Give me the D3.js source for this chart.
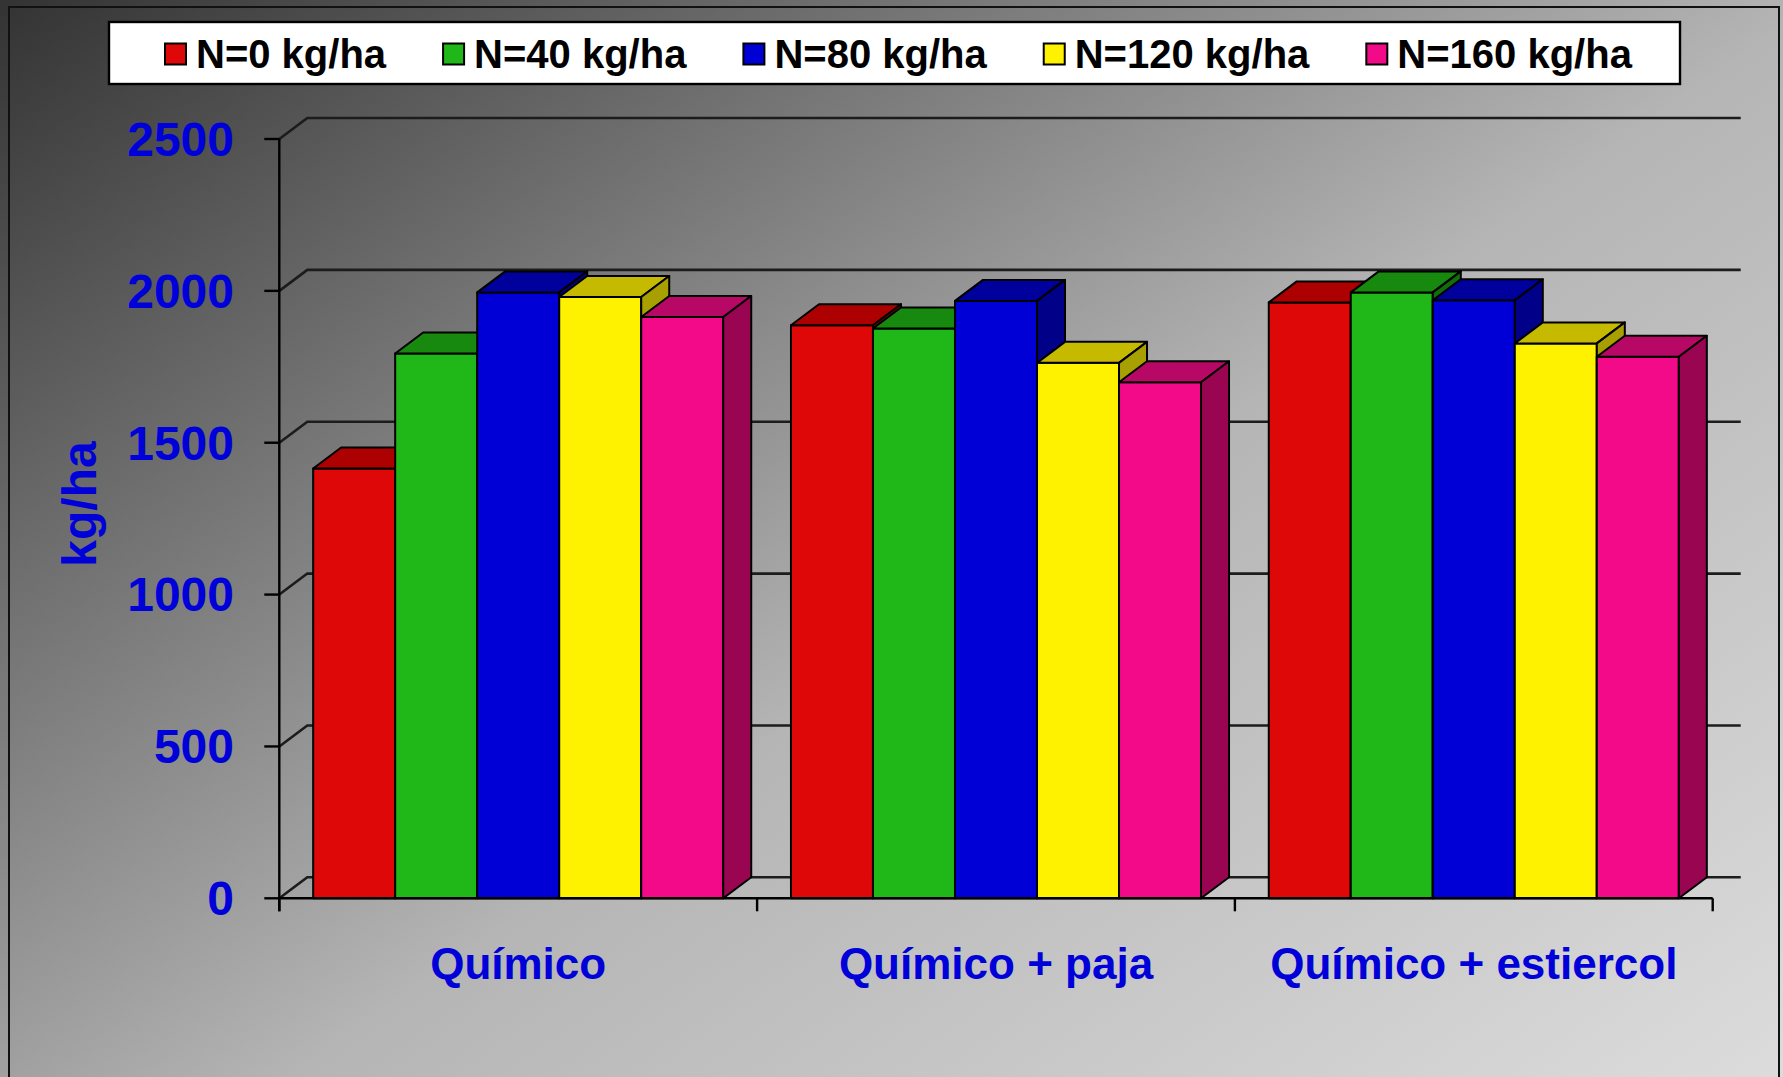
<!DOCTYPE html>
<html>
<head>
<meta charset="utf-8">
<title>kg/ha por tratamiento</title>
<script src="https://d3js.org/d3.v7.min.js"></script>
<style>
  body { margin: 0; background: #888; }
  text { font-family: "Liberation Sans", Arial, sans-serif; font-weight: bold; }
</style>
</head>
<body>
<svg width="1783" height="1077" id="chart"></svg>
<script>
// data
var categories = ["Químico", "Químico + paja", "Químico + estiercol"]
var seriesNames = ["N=0 kg/ha", "N=40 kg/ha", "N=80 kg/ha", "N=120 kg/ha", "N=160 kg/ha"]
var n0   = [1415, 1887, 1962]
var n40  = [1794, 1876, 1995]
var n80  = [1995, 1967, 1969]
var n120 = [1980, 1763, 1827]
var n160 = [1914, 1699, 1783]
var yTicks = [0, 500, 1000, 1500, 2000, 2500]

var seriesValues = [n0, n40, n80, n120, n160]
// front / top / side shades for each series
var colors = [
  {front: "#de0808", top: "#ad0000", side: "#8a0000"},
  {front: "#20b818", top: "#17890f", side: "#126e0c"},
  {front: "#0000d6", top: "#00009c", side: "#000088"},
  {front: "#fff200", top: "#c6ba00", side: "#a8a000"},
  {front: "#f20a88", top: "#b80866", side: "#9a0552"}
]

var svg = d3.select("#chart"),
    W = +svg.attr("width"), H = +svg.attr("height")

var dx = 28, dy = -21   // depth of the 3d walls and bars

var x0 = d3.scaleBand().domain(categories).range([279.3, 1712.7]).padding(0)
var x1 = d3.scaleBand().domain(d3.range(seriesNames.length))
    .range([0, x0.bandwidth()]).paddingInner(0).paddingOuter(0.413)
var y = d3.scaleLinear().domain([0, 2500]).range([898.3, 139])

// background
var defs = svg.append("defs")
var grad = defs.append("linearGradient").attr("id", "bg")
    .attr("gradientUnits", "userSpaceOnUse")
    .attr("x1", 0).attr("y1", 0).attr("x2", 1097).attr("y2", 1562)
grad.append("stop").attr("offset", "0%").attr("stop-color", "#333333")
grad.append("stop").attr("offset", "55%").attr("stop-color", "#b5b5b5")
grad.append("stop").attr("offset", "100%").attr("stop-color", "#dcdcdc")
svg.append("rect").attr("width", W).attr("height", H).attr("fill", "url(#bg)")
svg.append("rect").attr("x", 9).attr("y", 7).attr("width", 1770).attr("height", H + 10)
    .attr("fill", "none").attr("stroke", "#111").attr("stroke-width", 2)

var x0min = x0.range()[0], x0max = x0.range()[1]

// back wall gridlines + side wall diagonals
var grid = svg.append("g").attr("stroke", "#1c1c1c").attr("stroke-width", 2.6).attr("fill", "none")
yTicks.forEach(function(t) {
  grid.append("path")
    .attr("d", "M" + x0min + "," + y(t) + "L" + (x0min + dx) + "," + (y(t) + dy) +
               "L" + (x0max + dx) + "," + (y(t) + dy))
})

// bars
var groups = svg.selectAll("g.cat").data(categories).enter().append("g")
    .attr("class", "cat")
    .attr("transform", function(c) { return "translate(" + x0(c) + ",0)" })

groups.each(function(c, ci) {
  var g = d3.select(this)
  seriesValues.forEach(function(vals, si) {
    var v = vals[ci], bx = x1(si), bw = x1.bandwidth(), top = y(v), base = y(0)
    var col = colors[si]
    var b = g.append("g").attr("stroke", "#000").attr("stroke-width", 2).attr("stroke-linejoin", "round")
    b.append("rect").attr("x", bx).attr("y", top).attr("width", bw).attr("height", base - top)
      .attr("fill", col.front)
    b.append("path").attr("fill", col.top)
      .attr("d", "M" + bx + "," + top + "L" + (bx + dx) + "," + (top + dy) +
                 "L" + (bx + bw + dx) + "," + (top + dy) + "L" + (bx + bw) + "," + top + "Z")
    b.append("path").attr("fill", col.side)
      .attr("d", "M" + (bx + bw) + "," + top + "L" + (bx + bw + dx) + "," + (top + dy) +
                 "L" + (bx + bw + dx) + "," + (base + dy) + "L" + (bx + bw) + "," + base + "Z")
  })
})

// front axes
var axes = svg.append("g").attr("stroke", "#000").attr("stroke-width", 2.4).attr("fill", "none")
axes.append("path").attr("d", "M" + x0min + "," + y(2500) + "V" + (y(0) + 13))
axes.append("path").attr("d", "M" + x0min + "," + y(0) + "H" + x0max)
yTicks.forEach(function(t) {
  axes.append("path").attr("d", "M" + (x0min - 15) + "," + y(t) + "H" + x0min)
})
categories.concat([null]).forEach(function(c) {
  var xx = c === null ? x0max : x0(c)
  axes.append("path").attr("d", "M" + xx + "," + y(0) + "V" + (y(0) + 13))
})

svg.append("g").selectAll("text").data(yTicks).enter().append("text")
    .attr("x", 234).attr("y", function(d) { return y(d) })
    .attr("dy", "0.35em").attr("text-anchor", "end")
    .attr("font-size", 48).attr("fill", "#0000d8")
    .text(function(d) { return d })

svg.append("g").selectAll("text").data(categories).enter().append("text")
    .attr("x", function(c) { return x0(c) + x0.bandwidth() / 2 }).attr("y", 979)
    .attr("text-anchor", "middle").attr("font-size", 44).attr("fill", "#0000d8")
    .text(function(c) { return c })

svg.append("text").attr("transform", "translate(96,504) rotate(-90)")
    .attr("text-anchor", "middle").attr("font-size", 48).attr("fill", "#0000d8")
    .text("kg/ha")

// legend
var lg = svg.append("g")
lg.append("rect").attr("x", 109).attr("y", 22).attr("width", 1571).attr("height", 62)
    .attr("fill", "#fff").attr("stroke", "#000").attr("stroke-width", 2.4)
var items = lg.selectAll("g.item").data(seriesNames).enter().append("g").attr("class", "item")
items.append("rect").attr("x", 0).attr("y", 43.5).attr("width", 21).attr("height", 21)
    .attr("fill", function(d, i) { return colors[i].front })
    .attr("stroke", "#000").attr("stroke-width", 2)
items.append("text").attr("x", 31).attr("y", 68).attr("font-size", 40).attr("fill", "#000")
    .text(function(d) { return d })
var widths = []
items.each(function() { widths.push(d3.select(this).select("text").node().getComputedTextLength()) })
var gap = 57
var cx = 165
items.attr("transform", function(d, i) {
  var t = "translate(" + cx + ",0)"
  cx += 31 + widths[i] + gap
  return t
})
</script>
</body>
</html>
